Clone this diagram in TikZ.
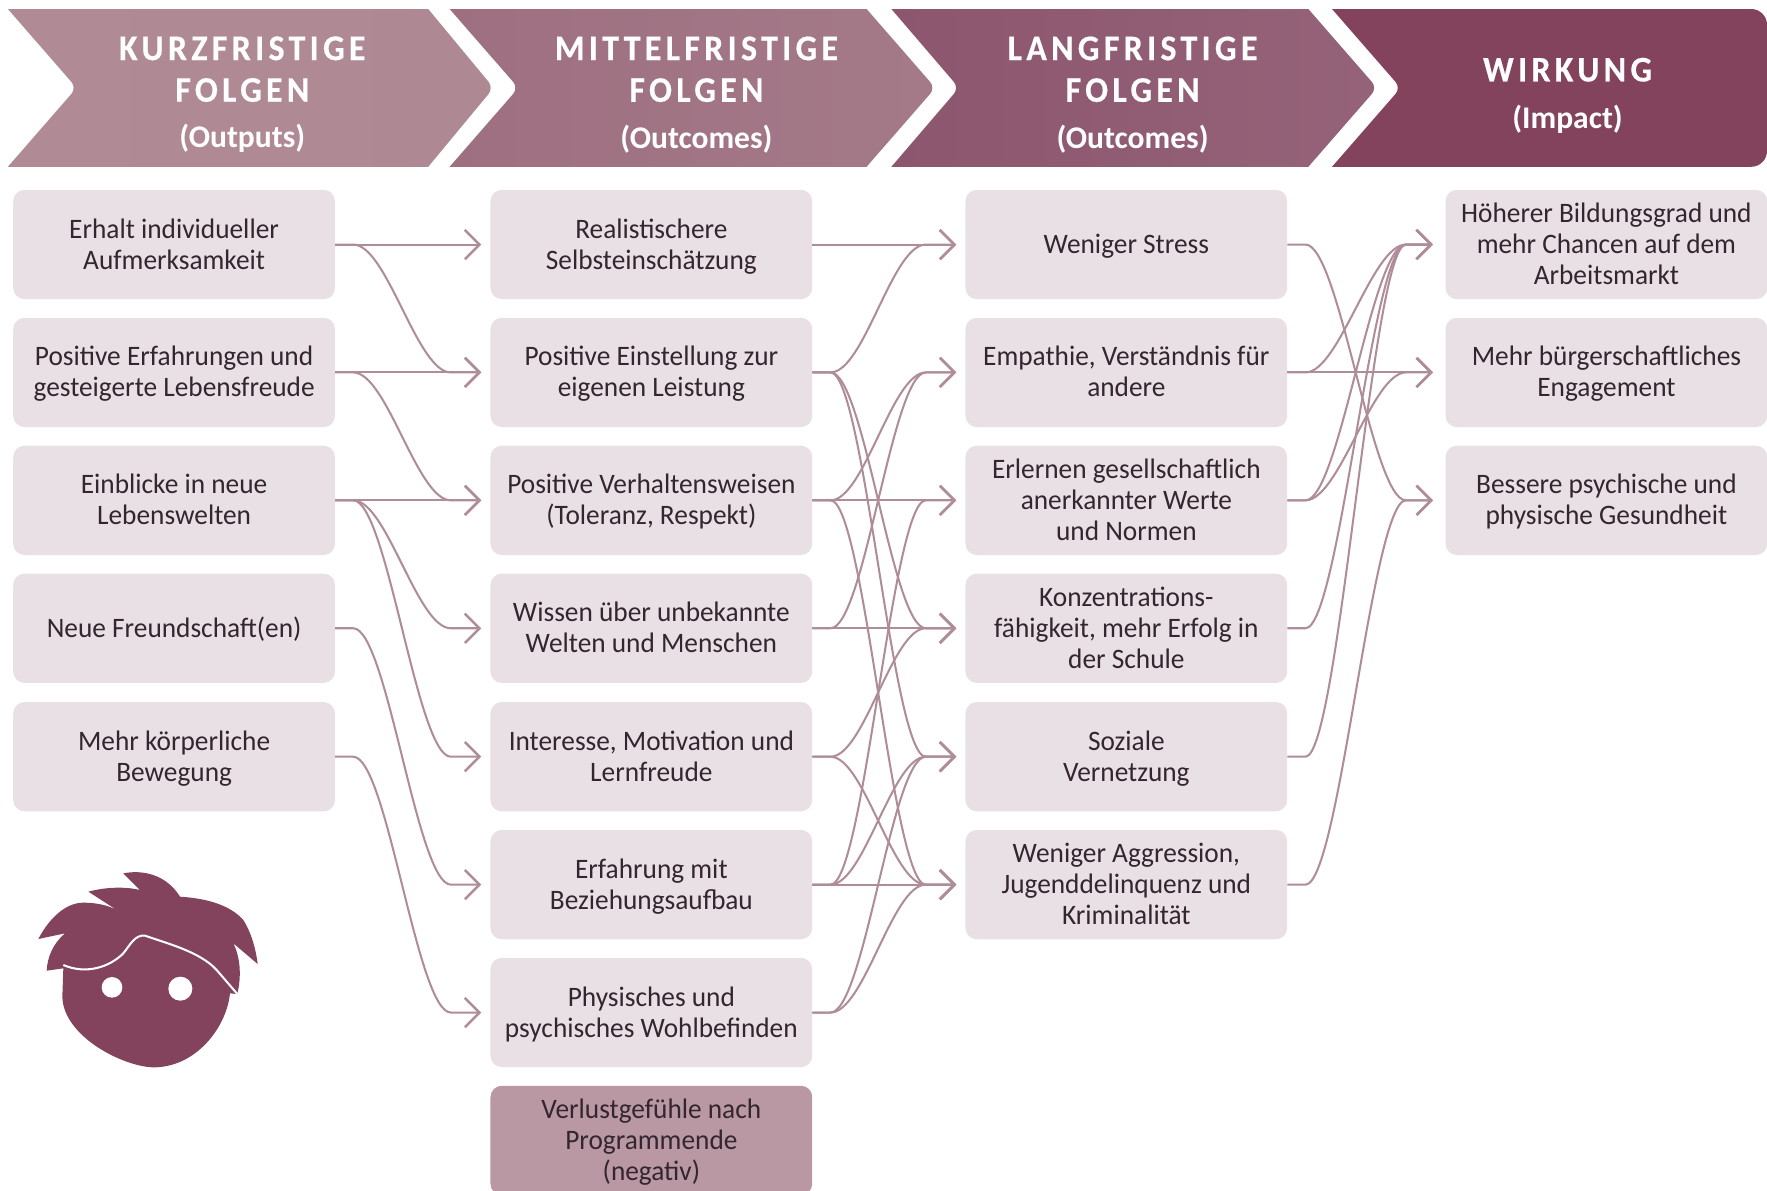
\documentclass[tikz,border=0pt]{standalone}
\usepackage{fontspec}
\setmainfont{Carlito}[FakeStretch=0.97]
\newfontfamily\headfont{Carlito}[FakeStretch=0.94,LetterSpace=12,BoldFeatures={FakeBold=0.4}]
\newfontfamily\subfont{Carlito}[FakeStretch=1.0]
\usetikzlibrary{arrows.meta,calc}
\definecolor{boxfill}{HTML}{E9E0E5}
\definecolor{negfill}{HTML}{B998A3}
\definecolor{linkcol}{HTML}{AE8C99}
\definecolor{txt}{HTML}{33262E}
\definecolor{plum}{HTML}{83435D}
\definecolor{ca}{HTML}{B08B96}\definecolor{cb}{HTML}{AE8893}
\definecolor{cc}{HTML}{9E6F81}\definecolor{cd}{HTML}{A47A88}
\definecolor{ce}{HTML}{8C566E}\definecolor{cf}{HTML}{956379}
\newcommand\hsub{\subfont\bfseries\fontsize{28}{30}\selectfont}
\tikzset{
  cellbase/.style={rectangle,rounded corners=10pt,fill=boxfill,minimum width=285.5pt,minimum height=97pt,inner sep=0pt,
    align=center,text=txt,font=\fontsize{25}{27.5}\selectfont},
  onecell/.style={cellbase,execute at begin node={\rule[-5.75pt]{0pt}{27.5pt}}},
  cell/.style={cellbase,execute at begin node={\rule[-5.75pt]{0pt}{55pt}}},
  threecell/.style={cellbase,execute at begin node={\rule[-5.75pt]{0pt}{82.5pt}}},
  negcell/.style={threecell,fill=negfill},
  head/.style={align=center,text=white,inner sep=0pt,font=\headfont\bfseries\fontsize{32}{37}\selectfont},
  link/.style={draw=linkcol,line width=1.8pt,-{Straight Barb[length=13pt,width=26pt,line width=2.2pt]},shorten >=8pt},
}
\newcommand\lnkcurve[3][]{\draw[link,#1] (#2.east) -- ++(16,0) .. controls +(30,0) and +(-30,0) .. ($(#3.west)+(-35,0)$) -- (#3.west);}
\newcommand\lnkstraight[3][]{\draw[link,#1] (#2.east) -- (#3.west);}
\begin{document}
\begin{tikzpicture}[x=1pt,y=-1pt]
\clip (0,0) rectangle (1568,1056);
\useasboundingbox (0,0) rectangle (1568,1056);
% header chevrons
\path[left color=ca,right color=cb] (7,8) -- (380,8) [rounded corners=7pt] -- (438,78) [sharp corners] -- (380,148) -- (7,148) [rounded corners=7pt] -- (68,78) [sharp corners] -- cycle;
\path[left color=cc,right color=cd] (399,8) -- (769,8) [rounded corners=7pt] -- (830,78) [sharp corners] -- (769,148) -- (399,148) [rounded corners=7pt] -- (460,78) [sharp corners] -- cycle;
\path[left color=ce,right color=cf] (791,8) -- (1161,8) [rounded corners=7pt] -- (1222,78) [sharp corners] -- (1161,148) -- (791,148) [rounded corners=7pt] -- (851,78) [sharp corners] -- cycle;
\fill[plum] (1182,8) [rounded corners=14pt] -- (1568,8) -- (1568,148) [sharp corners] -- (1182,148) [rounded corners=7pt] -- (1243,78) [sharp corners] -- cycle;
\node[head] (h1) at (215,84) {KURZFRISTIGE\\FOLGEN\\[4pt]{\hsub (Outputs)}};
\node[head] (h2) at (618,84) {MITTELFRISTIGE\\FOLGEN\\[4pt]{\hsub (Outcomes)}};
\node[head] (h3) at (1005,84) {LANGFRISTIGE\\FOLGEN\\[4pt]{\hsub (Outcomes)}};
\node[head] (h4) at (1391,85) {WIRKUNG\\[5pt]{\hsub (Impact)}};
% column 1
\node[cell] (a1) at (154.5,217) {Erhalt individueller\\Aufmerksamkeit};
\node[cell] (a2) at (154.5,330.5) {Positive Erfahrungen und\\gesteigerte Lebensfreude};
\node[cell] (a3) at (154.5,444) {Einblicke in neue\\Lebenswelten};
\node[onecell] (a4) at (154.5,557.5) {Neue Freundschaft(en)};
\node[cell] (a5) at (154.5,671.5) {Mehr körperliche\\Bewegung};
% column 2
\node[cell] (b1) at (578,217) {Realistischere\\Selbsteinschätzung};
\node[cell] (b2) at (578,330.5) {Positive Einstellung zur\\eigenen Leistung};
\node[cell] (b3) at (578,444) {Positive Verhaltensweisen\\(Toleranz, Respekt)};
\node[cell] (b4) at (578,557.5) {Wissen über unbekannte\\Welten und Menschen};
\node[cell] (b5) at (578,671.5) {Interesse, Motivation und\\Lernfreude};
\node[cell] (b6) at (578,785) {Erfahrung mit\\Beziehungsaufbau};
\node[cell] (b7) at (578,898.5) {Physisches und\\psychisches Wohlbefinden};
\node[negcell] (b8) at (578,1012) {Verlustgefühle nach\\Programmende\\(negativ)};
% column 3
\node[onecell] (c1) at (999.5,217) {Weniger Stress};
\node[cell] (c2) at (999.5,330.5) {Empathie, Verständnis für\\andere};
\node[threecell] (c3) at (999.5,444) {Erlernen gesellschaftlich\\anerkannter Werte\\und Normen};
\node[threecell] (c4) at (999.5,557.5) {Konzentrations-\\fähigkeit, mehr Erfolg in\\der Schule};
\node[cell] (c5) at (999.5,671.5) {Soziale\\Vernetzung};
\node[threecell] (c6) at (999.5,785) {Weniger Aggression,\\Jugenddelinquenz und\\Kriminalität};
% column 4
\node[threecell] (d1) at (1425.5,217) {Höherer Bildungsgrad und\\mehr Chancen auf dem\\Arbeitsmarkt};
\node[cell] (d2) at (1425.5,330.5) {Mehr bürgerschaftliches\\Engagement};
\node[cell] (d3) at (1425.5,444) {Bessere psychische und\\physische Gesundheit};
% links 1 -> 2
\lnkstraight{a1}{b1}\lnkcurve{a1}{b2}
\lnkstraight{a2}{b2}\lnkcurve{a2}{b3}
\lnkstraight{a3}{b3}\lnkcurve{a3}{b4}\lnkcurve{a3}{b5}
\lnkcurve{a4}{b6}\lnkcurve{a5}{b7}
% links 2 -> 3
\lnkstraight{b1}{c1}\lnkcurve{b2}{c1}\lnkcurve{b2}{c4}\lnkcurve{b2}{c5}
\lnkcurve{b3}{c2}\lnkstraight{b3}{c3}\lnkcurve{b3}{c6}
\lnkcurve{b4}{c2}\lnkstraight{b4}{c4}
\lnkcurve{b5}{c4}\lnkcurve{b5}{c6}
\lnkcurve{b6}{c3}\lnkcurve{b6}{c5}\lnkstraight{b6}{c6}
\lnkcurve{b7}{c5}\lnkcurve{b7}{c6}
% links 3 -> 4
\lnkcurve[shorten >=11pt]{c1}{d3}
\lnkcurve[shorten >=11pt]{c2}{d1}\lnkstraight[shorten >=11pt]{c2}{d2}
\lnkcurve[shorten >=11pt]{c3}{d1}\lnkcurve[shorten >=11pt]{c3}{d2}
\lnkcurve[shorten >=11pt]{c4}{d1}
\lnkcurve[shorten >=11pt]{c5}{d1}
\lnkcurve[shorten >=11pt]{c6}{d3}
% face
\begin{scope}[shift={(0,745.4)},x=0.2958pt,y=-0.2958pt]
\fill[plum] (370,100) .. controls (430,88) and (500,105) .. (540,170)
  .. controls (620,175) and (690,195) .. (730,240)
  .. controls (755,280) and (768,330) .. (773,372)
  -- (700,310) .. controls (725,360) and (722,420) .. (712,462)
  -- (690,460) .. controls (680,560) and (590,682) .. (460,682)
  .. controls (370,680) and (190,590) .. (187,470)
  -- (190,385) -- (140,392) .. controls (142,350) and (160,310) .. (195,280)
  -- (115,297) .. controls (150,230) and (200,188) .. (250,188)
  .. controls (300,188) and (335,200) .. (358,215)
  -- (265,155) .. controls (320,140) and (380,140) .. (420,150) -- cycle;
\draw[white,line width=1.8pt] (190,375) .. controls (260,405) and (330,380) .. (370,340)
  .. controls (390,315) and (405,283) .. (435,287)
  .. controls (500,310) and (600,335) .. (650,390) -- (712,462);
\fill[white] (336,442) circle[radius=31];
\fill[white] (541,446) circle[radius=36];
\end{scope}
\end{tikzpicture}
\end{document}
